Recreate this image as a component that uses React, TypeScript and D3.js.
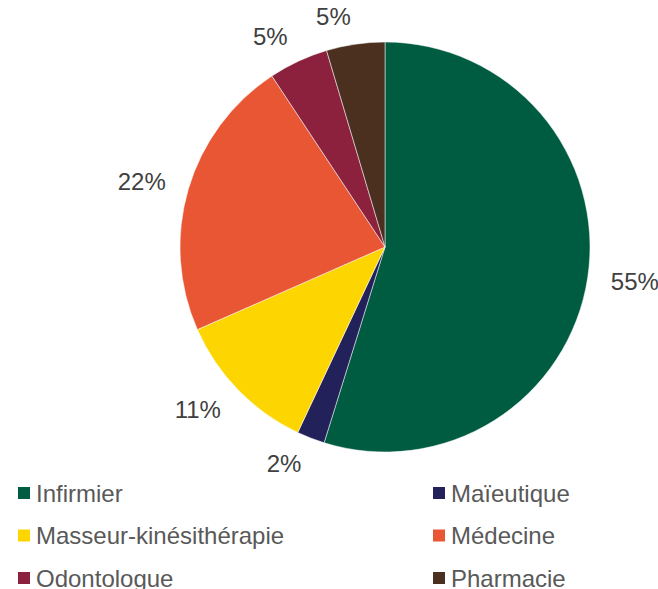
import { useEffect, useRef } from 'react';
import * as d3 from 'd3';

const categories = ['Infirmier', 'Maïeutique', 'Masseur-kinésithérapie', 'Médecine', 'Odontologue', 'Pharmacie'];
const values = [54.8, 2.2, 11.4, 22.3, 4.7, 4.6];
const labels = ['55%', '2%', '11%', '22%', '5%', '5%'];
const colors = ['#005c41', '#22215a', '#fdd500', '#e95633', '#8b213d', '#4b3020'];

const width = 658;
const height = 589;

export default function App() {
  const svgRef = useRef<SVGSVGElement>(null);

  useEffect(() => {
    if (!svgRef.current) return;
    const svg = d3.select(svgRef.current);
    svg.selectAll('*').remove();

    const cx = 385;
    const cy = 247;
    const radius = 205;
    const font = "'Liberation Sans', Arial, sans-serif";

    const pie = d3.pie<number>().sort(null).value((d) => d);
    const arcs = pie(values);
    const arc = d3.arc<d3.PieArcDatum<number>>().innerRadius(0).outerRadius(radius);

    const g = svg.append('g').attr('transform', `translate(${cx},${cy})`);

    g.selectAll('path.slice')
      .data(arcs)
      .enter()
      .append('path')
      .attr('class', 'slice')
      .attr('d', arc)
      .attr('fill', (_, i) => colors[i])
      .attr('stroke', '#ffffff')
      .attr('stroke-width', 0.5);

    // labels outside end: anchor just past the rim, then push the text box out
    const pad = 21;
    const lbls = g.selectAll('text.lbl')
      .data(arcs)
      .enter()
      .append('text')
      .attr('class', 'lbl')
      .attr('text-anchor', 'middle')
      .attr('dominant-baseline', 'central')
      .attr('font-family', font)
      .attr('font-size', '24px')
      .attr('fill', '#404040')
      .text((_, i) => labels[i]);

    lbls.each(function (d) {
      const el = this as SVGTextElement;
      const bb = el.getBBox();
      const mid = (d.startAngle + d.endAngle) / 2;
      const dx = Math.sin(mid);
      const dy = -Math.cos(mid);
      const x = dx * (radius + pad) + Math.sign(dx) * bb.width * 0.55;
      const y = dy * (radius + pad) + dy * bb.height * 0.25;
      d3.select(el).attr('x', x).attr('y', y);
    });

    // legend, 2 columns
    const colX = d3.scalePoint<number>().domain([0, 1]).range([18, 433]);
    const rowY = d3.scalePoint<number>().domain([0, 1, 2]).range([493, 578]);
    const legend = svg.append('g');
    categories.forEach((c, i) => {
      const x = colX(i % 2)!;
      const y = rowY(Math.floor(i / 2))!;
      legend.append('rect')
        .attr('x', x)
        .attr('y', y - 6)
        .attr('width', 12)
        .attr('height', 12)
        .attr('fill', colors[i]);
      legend.append('text')
        .attr('x', x + 18)
        .attr('y', y)
        .attr('dominant-baseline', 'central')
        .attr('font-family', font)
        .attr('font-size', '24px')
        .attr('fill', '#595959')
        .text(c);
    });
  }, []);

  return (
    <div style={{ position: 'absolute', left: 0, top: 0 }}>
      <svg ref={svgRef} width={width} height={height} style={{ display: 'block' }} />
    </div>
  );
}
